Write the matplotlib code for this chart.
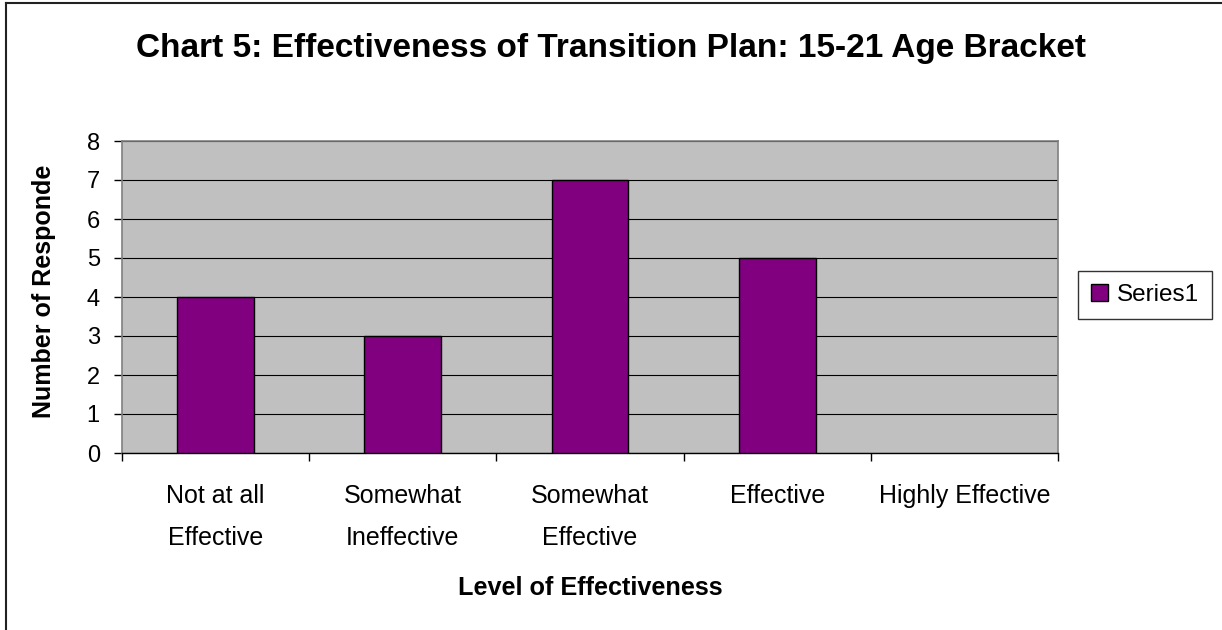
import matplotlib
matplotlib.use("Agg")
import matplotlib.pyplot as plt
from matplotlib.lines import Line2D
from matplotlib.patches import Patch

categories = ["Not at all\nEffective", "Somewhat\nIneffective", "Somewhat\nEffective", "Effective", "Highly Effective"]
values = [4, 3, 7, 5, 0]
series_name = "Series1"
title = "Chart 5: Effectiveness of Transition Plan: 15-21 Age Bracket"
xlabel = "Level of Effectiveness"
ylabel = "Number of Responde"
yticks = [0, 1, 2, 3, 4, 5, 6, 7, 8]

plt.rcParams['font.family'] = ['Liberation Sans', 'DejaVu Sans']

W, H = 1222, 630
fig = plt.figure(figsize=(W / 100, H / 100), dpi=100)
fig.patch.set_facecolor("white")

# outer chart border (only left and top edges visible in the crop)
fig.lines.append(Line2D([6 / W, 6 / W], [0, 1 - 3 / H], transform=fig.transFigure,
                        color="#222222", linewidth=1.5))
fig.lines.append(Line2D([6 / W, 1], [1 - 3 / H, 1 - 3 / H], transform=fig.transFigure,
                        color="#222222", linewidth=1.5))

ax = fig.add_axes([122 / W, (H - 453) / H, 936 / W, 312 / H])
ax.set_facecolor("#C0C0C0")
x = list(range(len(categories)))
edge_w = [1.0 if v > 0 else 0 for v in values]
ax.bar(x, values, width=0.41, color="#800080", edgecolor="black", linewidth=edge_w, zorder=3,
       label=series_name)
ax.set_xlim(-0.5, len(categories) - 0.5)
ax.set_ylim(0, 8)
ax.set_yticks(yticks)
ax.set_yticklabels([str(t) for t in yticks], fontsize=17)
ax.yaxis.grid(True, color="black", linewidth=0.8, zorder=1)
ax.set_axisbelow(True)

ax.set_xticks(x)
ax.set_xticklabels(categories, fontsize=18, linespacing=1.97, va="top")
ax.tick_params(axis="x", which="major", length=0, pad=22)
ax.set_xticks([i - 0.5 for i in range(len(categories) + 1)], minor=True)
ax.tick_params(axis="x", which="minor", length=6, width=1, color="black", direction="out")
ax.tick_params(axis="y", length=6, width=1, color="black", direction="out", pad=10)

for s in ["top", "right", "left"]:
    ax.spines[s].set_color("#808080")
    ax.spines[s].set_linewidth(1.2)
ax.spines["bottom"].set_color("black")
ax.spines["bottom"].set_linewidth(1.0)

fig.text(611 / W, 1 - 48 / H, title, fontsize=24, fontweight="bold", ha="center", va="center")
fig.text(590 / W, 1 - 588 / H, xlabel, fontsize=18.2, fontweight="bold", ha="center", va="center")
fig.text(44 / W, 1 - 291 / H, ylabel, fontsize=18, fontweight="bold", ha="center", va="center",
         rotation=90)

handles = [Patch(facecolor="#800080", edgecolor="black", linewidth=1.0)]
leg = fig.legend(handles, [series_name], loc="center", bbox_to_anchor=(1145 / W, 1 - 295 / H),
                 fontsize=17.5, frameon=True, fancybox=False, handlelength=0.7, handleheight=0.7,
                 handletextpad=0.35, borderpad=0.55, borderaxespad=0)
leg.get_frame().set_edgecolor("black")
leg.get_frame().set_linewidth(1.0)

fig.savefig("out.png", dpi=100)
